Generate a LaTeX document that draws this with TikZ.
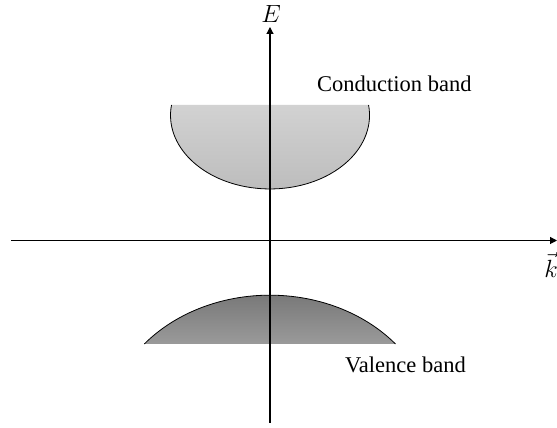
\documentclass[tikz,border=0pt]{standalone}
\usepackage{fontspec}
\setmainfont{Liberation Serif}
\usepackage{tikz}
\usetikzlibrary{arrows.meta,positioning}
\definecolor{condtop}{HTML}{D2D2D2}
\definecolor{condbot}{HTML}{BCBCBC}
\definecolor{valtop}{HTML}{757575}
\definecolor{valbot}{HTML}{9A9A9A}
\tikzset{
  axisline/.style={line width=1.1pt,-{Triangle[length=7pt,width=7pt]}},
  bandedge/.style={line width=0.8pt},
  bandlabel/.style={font=\fontsize{22.5}{27}\selectfont,inner sep=0pt},
  axislabel/.style={font=\fontsize{25}{30}\selectfont,inner sep=0pt}
}

\begin{document}
\begin{tikzpicture}[x=1pt,y=1pt]
        \useasboundingbox (0,0) rectangle (557,428);
        \shade[top color=condtop,bottom color=condbot] (171.5,323) arc[start angle=172,end angle=368,x radius=99.5,y radius=73.7] -- cycle;
        \draw[bandedge] (171.5,323) arc[start angle=172,end angle=368,x radius=99.5,y radius=73.7];
        \shade[top color=valtop,bottom color=valbot] (144.3,84) arc[start angle=140.4,end angle=39.6,x radius=163,y radius=134.7] -- cycle;
        \draw[bandedge] (144.3,84) arc[start angle=140.4,end angle=39.6,x radius=163,y radius=134.7];
        \coordinate (kstart) at (11,187.5);
        \coordinate (kend) at (557,187.5);
        \coordinate (estart) at (270,5);
        \coordinate (eend) at (270,401);
        \draw[axisline] (kstart)--(kend);
        \draw[axisline] (estart)--(eend);
        \node[axislabel] (elabel) at (271,414) {$E$};
        \node[axislabel] (klabel) at (551,163) {$\vec{k}$};
        \node[bandlabel,anchor=base west] (condlabel) at (317,336) {Conduction band};
        \node[bandlabel,anchor=base west] (vallabel) at (345,55) {Valence band};
      \end{tikzpicture}
\end{document}
